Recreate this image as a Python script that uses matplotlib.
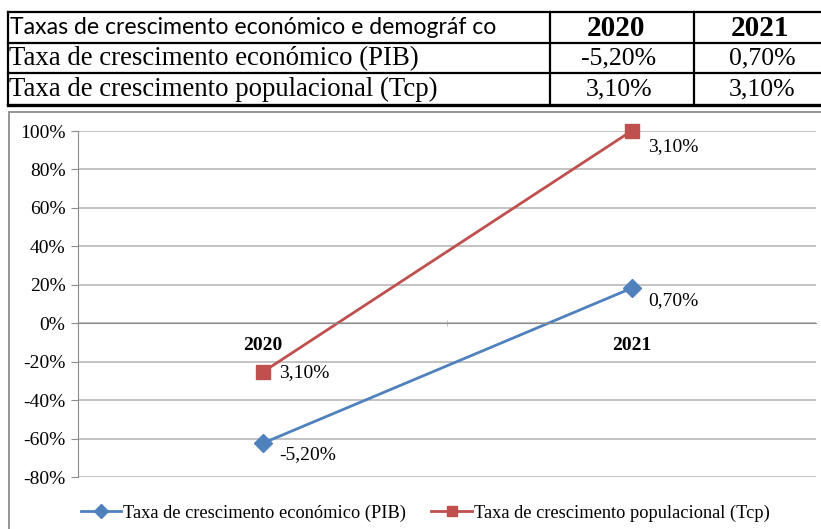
import numpy as np
import matplotlib
matplotlib.use("Agg")
import matplotlib.pyplot as plt
from matplotlib.patches import Rectangle

matplotlib.rcParams['font.family'] = ['Liberation Serif', 'DejaVu Serif']

# table values
tab_header = "Taxas de crescimento económico e demográf co"
years = ["2020", "2021"]
row_names = ["Taxa de crescimento económico (PIB)",
             "Taxa de crescimento populacional (Tcp)"]
row_vals = [["-5,20%", "0,70%"],
            ["3,10%", "3,10%"]]

# chart values (as plotted) and their data labels
pib_plot = [-0.625, 0.182]
tcp_plot = [-0.255, 1.00]
pib_lbl = ["-5,20%", "0,70%"]
tcp_lbl = ["3,10%", "3,10%"]

W, H = 821, 529
fig = plt.figure(figsize=(W / 100, H / 100), dpi=100)

# ---- table drawn on a pixel overlay
tb = fig.add_axes([0, 0, 1, 1])
tb.set_xlim(0, W)
tb.set_ylim(H, 0)
tb.axis('off')
for y in [12, 43, 73]:
    tb.plot([8, W], [y, y], color='black', lw=1.6)
tb.plot([8, W], [105, 105], color='black', lw=2.4)
for x in [8, 550, 694]:
    tb.plot([x, x], [12, 105], color='black', lw=1.6)

tb.text(10, 27.5, tab_header, family='Lato', fontsize=16.6, va='center', ha='left')
for i, yr in enumerate(years):
    tb.text([616, 760][i], 28, yr, fontsize=21, weight='bold', va='center', ha='center')
for r, name in enumerate(row_names):
    yc = [58.5, 89.5][r]
    tb.text(9, yc, name, fontsize=19.3, va='center', ha='left')
    for i, v in enumerate(row_vals[r]):
        tb.text([619, 762][i], yc, v, fontsize=18.5, va='center', ha='center')

# chart frame
fig.add_artist(Rectangle((9 / W, -0.1), 1.2, 1 - 112 / H + 0.1,
                         transform=fig.transFigure, fill=False,
                         edgecolor='#8c8c8c', lw=1.3, clip_on=False))

# ---- line chart
ax = fig.add_axes([78 / W, 1 - 477 / H, (816 - 78) / W, (477 - 131) / H])
x = np.arange(len(years))
blue = '#4f81bd'
red = '#c0504d'
ax.plot(x, pib_plot, color=blue, lw=2.0, marker='D', ms=9, clip_on=False,
        label="Taxa de crescimento económico (PIB)")
ax.plot(x, tcp_plot, color=red, lw=2.0, marker='s', ms=10.5, clip_on=False,
        label="Taxa de crescimento populacional (Tcp)")

ax.set_xlim(-0.5, 1.5)
ax.set_ylim(-0.8, 1.0)
yt = np.arange(-0.8, 1.01, 0.2)
ax.set_yticks(yt)
ax.set_yticklabels([f"{round(v * 100)}%" for v in yt], fontsize=14)
ax.grid(axis='y', color='#b3b3b3', lw=1.1)
ax.set_axisbelow(True)

for s in ['top', 'right']:
    ax.spines[s].set_visible(False)
ax.spines['left'].set_color('#8c8c8c')
ax.spines['bottom'].set_position(('data', 0))
ax.spines['bottom'].set_color('#8c8c8c')
ax.tick_params(axis='y', length=5, color='#8c8c8c', pad=4)

ax.set_xticks(x)
ax.set_xticklabels(years, fontsize=14, weight='bold')
ax.tick_params(axis='x', which='major', length=0, pad=10)
ax.set_xticks([0.5], minor=True)
ax.tick_params(axis='x', which='minor', length=5, direction='inout', color='#b3b3b3')

offs = [[(12, -8), (12, -9)], [(12, 0), (12, -11)]]
for i in range(len(years)):
    ax.annotate(pib_lbl[i], (x[i], pib_plot[i]), xytext=offs[0][i],
                textcoords='offset points', fontsize=14, va='center', ha='left')
    ax.annotate(tcp_lbl[i], (x[i], tcp_plot[i]), xytext=offs[1][i],
                textcoords='offset points', fontsize=14, va='center', ha='left')

fig.legend(loc='center', bbox_to_anchor=(425 / W, 1 - 513 / H), ncol=2,
           frameon=False, fontsize=13.2, handlelength=2.2, markerscale=0.75,
           columnspacing=1.4, handletextpad=0.1)

fig.savefig("out.png", dpi=100)
